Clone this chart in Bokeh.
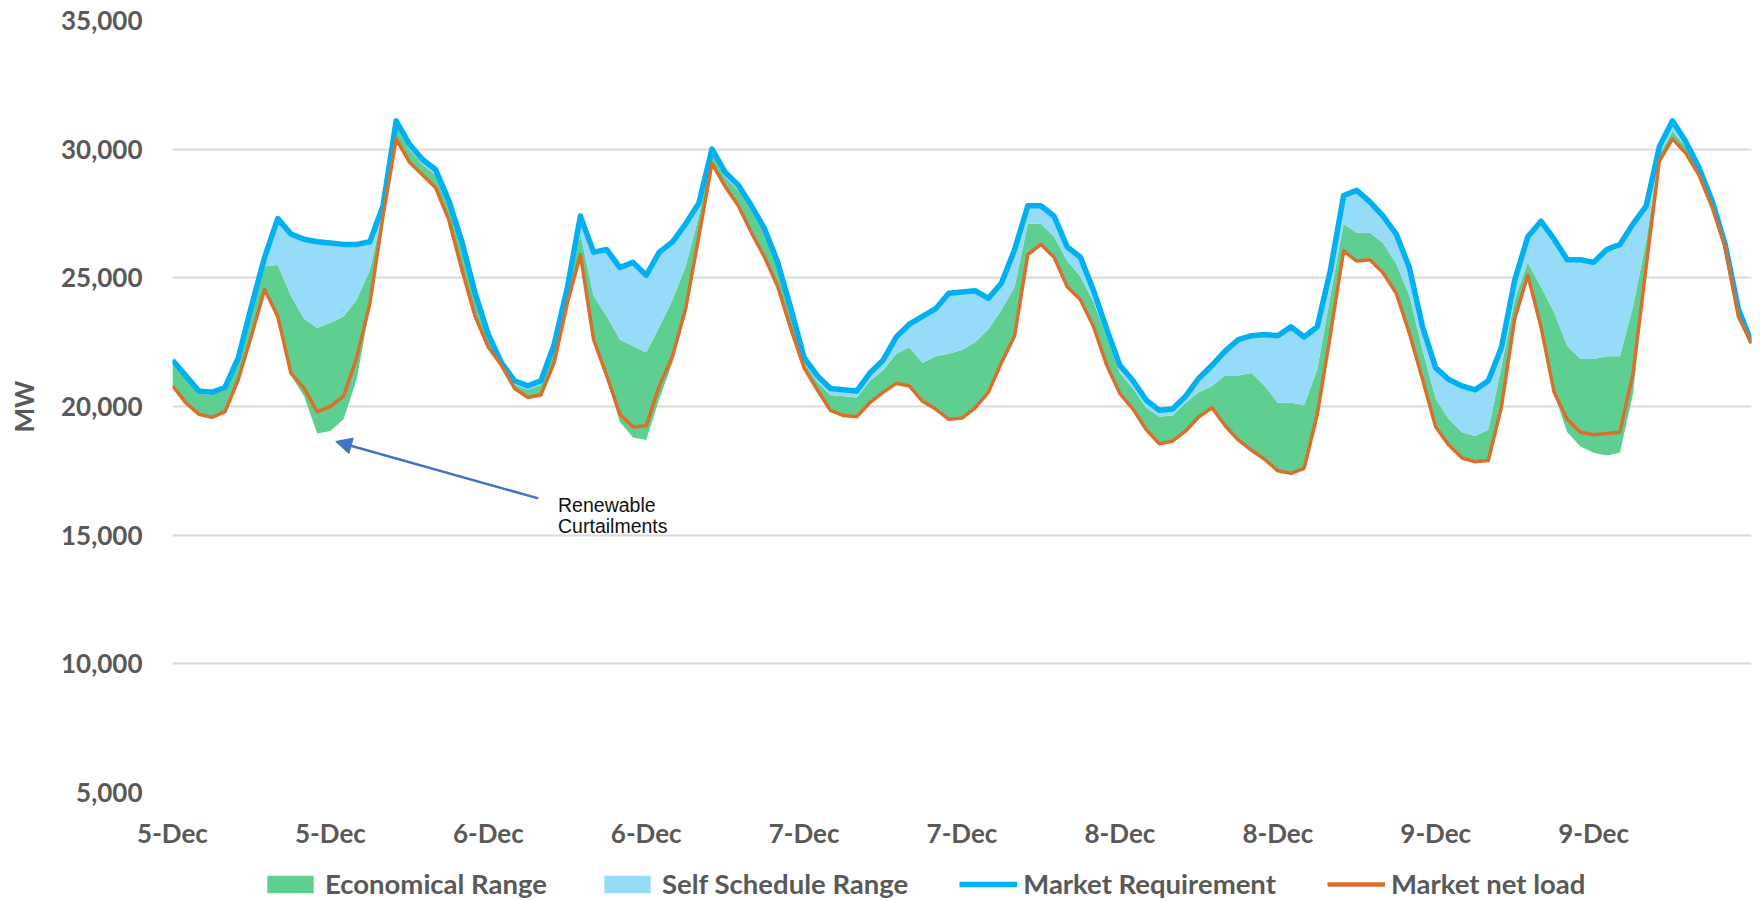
from bokeh.plotting import figure
from bokeh.layouts import column
from bokeh.models import (FixedTicker, NumeralTickFormatter, Legend, LegendItem,
                          Arrow, NormalHead, Label, Range1d)
from bokeh.embed import file_html
from bokeh.resources import INLINE

# ---------------- data (hourly, 5-Dec 00:00 .. 10-Dec 00:00) ----------------
hours = list(range(121))

market_requirement = [
    21800, 21200, 20600, 20550, 20750, 21900, 23900, 25800, 27300, 26700,
    26500, 26400, 26350, 26300, 26300, 26400, 27800, 31100, 30200, 29600,
    29200, 28000, 26400, 24400, 22800, 21700, 21000, 20800, 21000, 22400,
    24600, 27400, 26000, 26100, 25400, 25600, 25100, 26000, 26400, 27100,
    27900, 30000, 29100, 28600, 27800, 26900, 25600, 23800, 21900, 21200,
    20700, 20650, 20600, 21300, 21800, 22700, 23200, 23500, 23800, 24400,
    24450, 24500, 24200, 24800, 26100, 27800, 27800, 27400, 26200, 25800,
    24500, 23000, 21600, 21000, 20250, 19850, 19900, 20400, 21100, 21600,
    22150, 22600, 22750, 22800, 22750, 23100, 22700, 23100, 25300, 28200,
    28400, 27950, 27400, 26700, 25400, 23100, 21500, 21050, 20800, 20650,
    21000, 22300, 24900, 26600, 27200, 26500, 25700, 25700, 25600, 26100,
    26300, 27100, 27800, 30100, 31100, 30300, 29300, 28000, 26300, 23800,
    22500]

market_net_load = [
    20800, 20150, 19700, 19580, 19800, 21050, 22750, 24550, 23500, 21300,
    20700, 19800, 20000, 20400, 21900, 24000, 27400, 30400, 29500, 29000,
    28500, 27250, 25300, 23500, 22300, 21600, 20700, 20350, 20450, 21700,
    24000, 25900, 22600, 21200, 19700, 19200, 19250, 20800, 21950, 23800,
    26600, 29450, 28550, 27800, 26750, 25800, 24650, 23000, 21500, 20650,
    19850, 19650, 19600, 20150, 20550, 20900, 20800, 20200, 19900, 19500,
    19550, 19950, 20550, 21700, 22750, 25900, 26300, 25800, 24650, 24150,
    23100, 21600, 20500, 19900, 19100, 18550, 18650, 19050, 19600, 19950,
    19250, 18700, 18300, 17950, 17500, 17400, 17600, 19700, 22800, 26050,
    25650, 25700, 25200, 24400, 22850, 21050, 19200, 18500, 18000, 17850,
    17900, 20000, 23400, 25100, 23100, 20550, 19500, 19000, 18900, 18950,
    19000, 21300, 25450, 29550, 30400, 29850, 29000, 27750, 26200, 23500,
    22450]

# lower edge of the economical range (drops below net load when renewables are curtailed)
economical_low = [
    20800, 20150, 19700, 19580, 19800, 21050, 22750, 24550, 23500, 21200,
    20400, 18950, 19050, 19500, 21050, 23900, 27400, 30400, 29500, 29000,
    28500, 27250, 25300, 23500, 22300, 21600, 20700, 20350, 20450, 21700,
    24000, 25900, 22600, 21100, 19400, 18800, 18700, 20300, 21700, 23800,
    26600, 29450, 28550, 27800, 26750, 25800, 24650, 23000, 21500, 20650,
    19850, 19650, 19600, 20150, 20550, 20900, 20800, 20200, 19900, 19500,
    19550, 19950, 20550, 21700, 22750, 25900, 26300, 25800, 24650, 24150,
    23100, 21600, 20500, 19900, 19100, 18550, 18650, 19050, 19600, 19950,
    19250, 18700, 18300, 17950, 17500, 17400, 17600, 19700, 22800, 26050,
    25650, 25700, 25200, 24400, 22850, 21050, 19200, 18500, 18000, 17850,
    17900, 20000, 23400, 25100, 23100, 20500, 19000, 18450, 18200, 18100,
    18200, 20500, 25450, 29550, 30400, 29850, 29000, 27750, 26200, 23500,
    22450]

# boundary between economical range and self-schedule range
self_schedule_low = [
    21700, 21100, 20500, 20450, 20650, 21800, 23700, 25450, 25500, 24300,
    23400, 23050, 23250, 23500, 24150, 25300, 27600, 30900, 30000, 29400,
    29000, 27800, 26200, 24200, 22650, 21650, 20850, 20650, 20850, 22250,
    24400, 26700, 24300, 23500, 22600, 22350, 22100, 23100, 24150, 25450,
    27400, 29800, 28900, 28400, 27600, 26700, 25400, 23600, 21700, 20950,
    20450, 20400, 20350, 21000, 21400, 22050, 22300, 21700, 21950, 22050,
    22200, 22500, 23000, 23750, 24650, 27100, 27100, 26600, 25650, 25050,
    24050, 22700, 21300, 20700, 19950, 19600, 19650, 20150, 20550, 20800,
    21200, 21200, 21300, 20800, 20150, 20150, 20050, 21450, 24300, 27100,
    26750, 26750, 26350, 25550, 24300, 22200, 20300, 19500, 19000, 18850,
    19100, 21550, 24150, 25600, 24650, 23650, 22350, 21850, 21850, 21950,
    21950, 23900, 26450, 29800, 30700, 30100, 29150, 27850, 26250, 23650,
    22450]

tick_hours = [0, 12, 24, 36, 48, 60, 72, 84, 96, 108]
tick_labels = ["5-Dec", "5-Dec", "6-Dec", "6-Dec", "7-Dec", "7-Dec",
               "8-Dec", "8-Dec", "9-Dec", "9-Dec"]
y_ticks = [5000, 10000, 15000, 20000, 25000, 30000, 35000]

# ---------------- styling ----------------
FONT = "Lato"
TXT = "#595959"
GREEN = "#5FCE91"
LBLUE = "#96DCF8"
BLUE = "#00B0F0"
ORANGE = "#D8702C"
GRID = "#D9D9D9"


def draw_series(fig):
    g = fig.varea(x=hours, y1=economical_low, y2=self_schedule_low,
                  fill_color=GREEN, fill_alpha=1.0)
    b = fig.varea(x=hours, y1=self_schedule_low, y2=market_requirement,
                  fill_color=LBLUE, fill_alpha=1.0)
    r = fig.line(hours, market_requirement, line_color=BLUE, line_width=5.5,
                 line_join="round")
    n = fig.line(hours, market_net_load, line_color=ORANGE, line_width=3.5,
                 line_join="round")
    return g, b, r, n


p = figure(width=1760, height=856,
           x_range=Range1d(0, 120), y_range=Range1d(5000, 35000),
           output_backend="svg", toolbar_location=None,
           min_border_left=172, min_border_right=9,
           min_border_top=20, min_border_bottom=64)
p.outline_line_color = None
p.background_fill_color = "white"

draw_series(p)

# axes
p.xaxis.ticker = FixedTicker(ticks=tick_hours)
p.xaxis.major_label_overrides = {t: l for t, l in zip(tick_hours, tick_labels)}
p.yaxis.ticker = FixedTicker(ticks=y_ticks)
p.yaxis.formatter = NumeralTickFormatter(format="0,0")
for ax in (p.xaxis, p.yaxis):
    ax.axis_line_color = None
    ax.major_tick_line_color = None
    ax.minor_tick_line_color = None
    ax.major_tick_out = 0
    ax.major_tick_in = 0
    ax.major_label_text_font = FONT
    ax.major_label_text_font_size = "26px"
    ax.major_label_text_color = TXT
    ax.major_label_text_font_style = "bold"
p.xaxis.major_label_standoff = 24
p.yaxis.major_label_standoff = 30
p.yaxis.axis_label = "MW"
p.yaxis.axis_label_text_font = FONT
p.yaxis.axis_label_text_font_size = "26px"
p.yaxis.axis_label_text_font_style = "bold"
p.yaxis.axis_label_text_color = TXT
p.yaxis.axis_label_standoff = 18

p.xgrid.grid_line_color = None
p.ygrid.grid_line_color = GRID
p.ygrid.grid_line_width = 2

# annotation
p.add_layout(Arrow(end=NormalHead(size=16, fill_color="#4472C4", line_color="#4472C4"),
                   x_start=27.8, y_start=16430, x_end=12.4, y_end=18640,
                   line_color="#4472C4", line_width=2.5))
p.add_layout(Label(x=29.3, y=15730, text="Renewable", text_font="Liberation Sans",
                   text_font_size="19.5px", text_color="#111111"))
p.add_layout(Label(x=29.3, y=14910, text="Curtailments", text_font="Liberation Sans",
                   text_font_size="19.5px", text_color="#111111"))

# legend strip underneath (column aligns its frame with the chart's frame):
# same series drawn outside its visible range, only the legend shows
leg = figure(width=1760, height=45, x_range=Range1d(0, 120), y_range=Range1d(0, 1),
             x_axis_type=None, y_axis_type=None,
             output_backend="svg", toolbar_location=None, min_border=0)
leg.outline_line_color = None
leg.grid.visible = False
lg, lb, lr, ln = draw_series(leg)
ln.glyph.line_width = 4.5

legend = Legend(items=[
    LegendItem(label="Economical Range", renderers=[lg]),
    LegendItem(label="Self Schedule Range", renderers=[lb]),
    LegendItem(label="Market Requirement", renderers=[lr]),
    LegendItem(label="Market net load", renderers=[ln]),
], location=(89, 1), orientation="horizontal", spacing=51, label_standoff=6,
    glyph_width=58, glyph_height=22, label_height=26, padding=0, margin=0,
    border_line_color=None, background_fill_alpha=0,
    label_text_font=FONT, label_text_font_size="27.5px", label_text_color=TXT,
    label_text_font_style="bold")
leg.add_layout(legend)

open("out.html", "w").write(file_html(column(p, leg, spacing=0), INLINE))
